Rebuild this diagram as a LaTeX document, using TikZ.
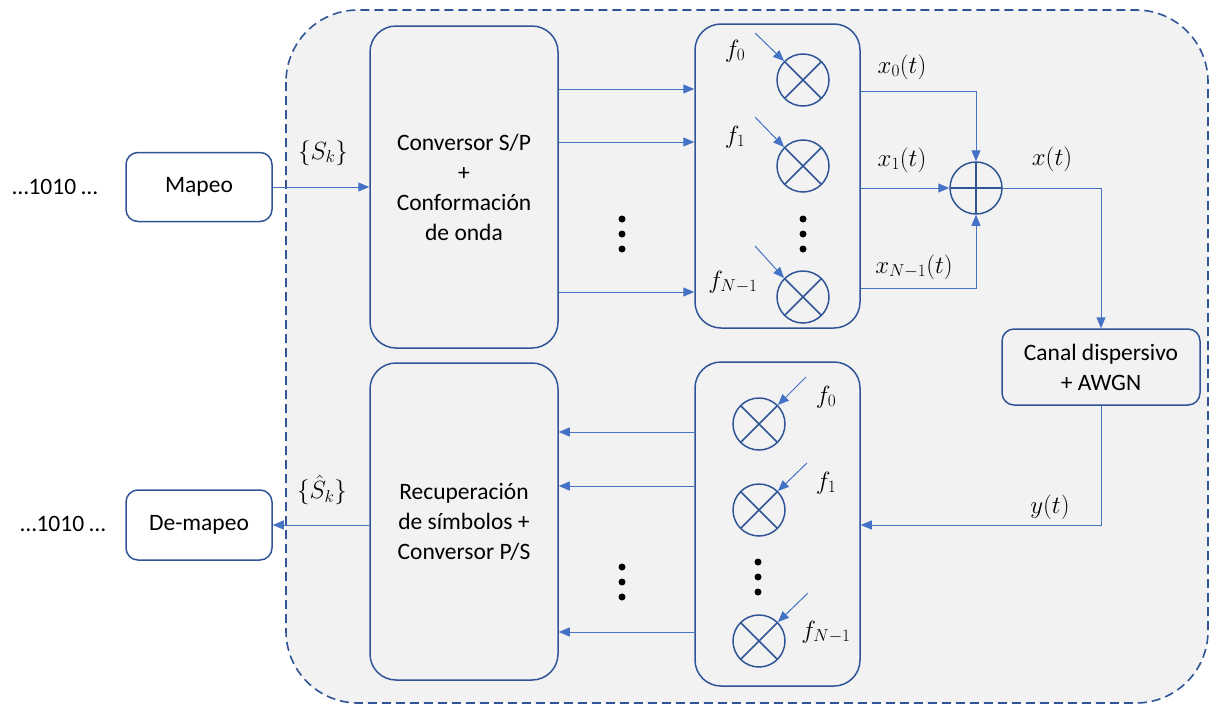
\documentclass[tikz,border=0pt]{standalone}
\usepackage{fontspec}
\setmainfont{Carlito}
\usetikzlibrary{arrows.meta}
\definecolor{dblue}{HTML}{2F5597}
\definecolor{lblue}{HTML}{4472C4}
\definecolor{bgray}{HTML}{F2F2F2}
\begin{document}
\begin{tikzpicture}[x=1pt,y=-1pt,
  font=\fontsize{23.5}{30}\selectfont,
  bigbox/.style={draw=dblue,line width=1.5pt,rounded corners=26pt,fill=bgray,inner sep=0pt,align=center},
  smallbox/.style={draw=dblue,line width=1.5pt,rounded corners=12pt,fill=white,inner sep=0pt,align=center},
  chanbox/.style={draw=dblue,line width=1.5pt,rounded corners=12pt,fill=bgray,inner sep=0pt,align=center},
  mult/.style={circle,draw=dblue,line width=1.5pt,minimum size=52pt,inner sep=0pt,
    path picture={\draw[dblue,line width=1.5pt]
      (path picture bounding box.north west) -- (path picture bounding box.south east)
      (path picture bounding box.north east) -- (path picture bounding box.south west);}},
  summer/.style={circle,draw=dblue,line width=1.5pt,minimum size=52pt,inner sep=0pt,
    path picture={\draw[dblue,line width=1.5pt]
      (path picture bounding box.north) -- (path picture bounding box.south)
      (path picture bounding box.west) -- (path picture bounding box.east);}},
  sig/.style={draw=lblue,line width=1pt},
  arr/.style={sig,-{Triangle[length=11pt,width=9pt]}},
  lbl/.style={inner sep=0pt},
  mlbl/.style={inner sep=0pt,font=\fontsize{26}{30}\selectfont},
  dot/.style={circle,fill=black,inner sep=0pt,minimum size=7pt}
]
\useasboundingbox (0,0) rectangle (1210,707);

% outer dashed frame
\draw[draw=dblue,line width=1.6pt,dash pattern=on 9pt off 5pt,fill=bgray,rounded corners=72pt]
  (286,10) rectangle (1208,703);

% outside blocks
\node[lbl] (bitsin) at (55,187) {…1010 …};
\node[smallbox,minimum width=146pt,minimum height=69pt] (map) at (199,187) {Mapeo};
\node[lbl] (bitsout) at (63,524) {…1010 …};
\node[smallbox,minimum width=146pt,minimum height=70pt] (demap) at (199,525) {De-mapeo};

% transmitter
\node[bigbox,minimum width=188pt,minimum height=322pt] (sp) at (464,187)
  {Conversor S/P\\+\\Conformación\\de onda};
\node[bigbox,minimum width=165pt,minimum height=304pt] (modbank) at (777.5,176) {};
\node[mult] (m0) at (803,80) {};
\node[mult] (m1) at (803,166) {};
\node[mult] (m2) at (803,297) {};
\node[dot] (ud1) at (803,219) {};
\node[dot] (ud2) at (803,234) {};
\node[dot] (ud3) at (803,249) {};
\node[mlbl] (f0a) at (735,51) {$f_0$};
\node[mlbl] (f1a) at (735,137) {$f_1$};
\node[mlbl] (f2a) at (733,282) {$f_{N-1}$};
\coordinate (c0) at (755,33);
\coordinate (c1) at (755,117);
\coordinate (c2) at (755,246);
\draw[arr] (c0) -- (m0.north west);
\draw[arr] (c1) -- (m1.north west);
\draw[arr] (c2) -- (m2.north west);

\node[dot] (sd1) at (622,219) {};
\node[dot] (sd2) at (622,234) {};
\node[dot] (sd3) at (622,249) {};

\draw[arr] (sp.east |- 0,89) -- (modbank.west |- 0,89);
\draw[arr] (sp.east |- 0,142) -- (modbank.west |- 0,142);
\draw[arr] (sp.east |- 0,292) -- (modbank.west |- 0,292);

\node[summer] (sum) at (976,188) {};
\draw[arr] (modbank.east |- 0,91) -| (sum.north);
\draw[arr] (modbank.east |- 0,188) -- (sum.west);
\draw[arr] (modbank.east |- 0,288) -| (sum.south);
\node[mlbl] (x0) at (902,67) {$x_0(t)$};
\node[mlbl] (x1) at (902,160) {$x_1(t)$};
\node[mlbl] (x2) at (914,267) {$x_{N-1}(t)$};
\node[mlbl] (xt) at (1052,159) {$x(t)$};

% channel
\node[chanbox,minimum width=198pt,minimum height=76pt] (chan) at (1101,367)
  {Canal dispersivo\\+ AWGN};
\draw[arr] (sum.east) -| (chan.north);

% receiver
\node[bigbox,minimum width=165pt,minimum height=324pt] (demodbank) at (777.5,524) {};
\draw[arr] (chan.south) |- (demodbank.east |- 0,525);
\node[mlbl] (yt) at (1050,507) {$y(t)$};

\node[mult] (r0) at (759,424) {};
\node[mult] (r1) at (759,510) {};
\node[mult] (r2) at (759,641) {};
\node[dot] (ld1) at (758,562) {};
\node[dot] (ld2) at (758,577) {};
\node[dot] (ld3) at (758,592) {};
\node[mlbl] (f0b) at (826,397) {$f_0$};
\node[mlbl] (f1b) at (826,483) {$f_1$};
\node[mlbl] (f2b) at (826,632) {$f_{N-1}$};
\coordinate (d0) at (806,377);
\coordinate (d1) at (807,463);
\coordinate (d2) at (808,593);
\draw[arr] (d0) -- (r0.north east);
\draw[arr] (d1) -- (r1.north east);
\draw[arr] (d2) -- (r2.north east);

\node[bigbox,minimum width=188pt,minimum height=317pt] (ps) at (464,521.5)
  {Recuperación\\de símbolos +\\Conversor P/S};

\draw[arr] (demodbank.west |- 0,432) -- (ps.east |- 0,432);
\draw[arr] (demodbank.west |- 0,486) -- (ps.east |- 0,486);
\draw[arr] (demodbank.west |- 0,632) -- (ps.east |- 0,632);

\node[dot] (rd1) at (622,567) {};
\node[dot] (rd2) at (622,582) {};
\node[dot] (rd3) at (622,597) {};

% mapper links
\draw[arr] (map.east) -- (sp.west |- map.east);
\draw[arr] (ps.west |- demap.east) -- (demap.east);
\node[mlbl] (sk) at (323,153) {$\{S_k\}$};
\node[mlbl] (skh) at (322,490) {$\{\hat{S}_k\}$};
\end{tikzpicture}
\end{document}
